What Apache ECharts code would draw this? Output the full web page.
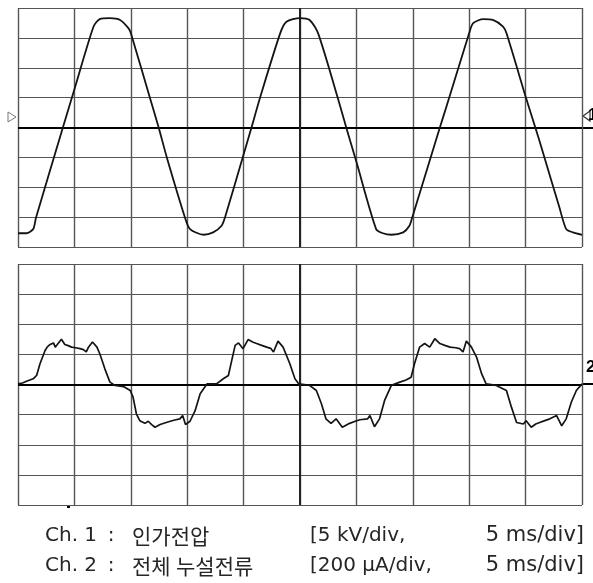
<!DOCTYPE html>
<html>
<head>
<meta charset="utf-8">
<script src="https://cdn.jsdelivr.net/npm/echarts@6/dist/echarts.min.js"></script>
<style>
html,body{margin:0;padding:0;background:#fff;}
#chart{width:593px;height:583px;}
</style>
</head>
<body>
<div id="chart"></div>
<script>
// Time axis: 10 divisions x 5 ms/div
const timeTicks = [0, 5, 10, 15, 20, 25, 30, 35, 40, 45, 50];
// Ch.1 applied voltage [ms, kV] (5 kV/div)
const voltageData = [
  [0, -17.7], [0.75, -17.7], [1.35, -17.0], [1.6, -15.05], [3.98, 0], [5.05, 6.7],
  [6.7, 16.9], [7.25, 18.15], [8.15, 18.3], [9.05, 18.0], [9.8, 16.6], [10.0, 15.8],
  [11.7, 4.95], [12.47, 0], [13.2, -5.05], [14.8, -15.05], [15.25, -17.0], [16.45, -17.95],
  [17.3, -17.55], [18.05, -16.45], [18.35, -15.05], [20.05, -4.2], [20.7, 0], [21.45, 4.95],
  [23.25, 15.8], [23.8, 17.7], [25.0, 18.3], [25.85, 18.0], [26.6, 15.8], [28.35, 4.95],
  [29.1, 0], [30.0, -5.75], [31.75, -17.0], [32.35, -17.7], [33.1, -17.95], [34.15, -17.55],
  [34.7, -16.45], [34.95, -15.05], [37.4, 0], [37.95, 3.3], [40.0, 15.8], [40.35, 17.45],
  [41.25, 18.15], [42.1, 18.0], [43.0, 16.9], [43.3, 15.8], [45.0, 5.2], [45.86, 0],
  [46.4, -3.3], [48.0, -13.4], [48.6, -17.0], [49.2, -17.55], [50, -17.95]
];
// Ch.2 total leakage current [ms, uA] (200 uA/div)
const currentData = [
  [0, 4], [0.4, 10], [0.75, 22], [1.35, 38], [1.65, 60], [1.95, 138], [2.4, 226], [2.6, 250],
  [2.85, 266], [3.15, 276], [3.3, 248], [3.45, 262], [3.6, 272], [3.85, 300], [4.15, 266],
  [4.45, 258], [4.75, 248], [5.1, 244], [5.5, 238], [5.8, 232], [6.05, 216], [6.25, 248],
  [6.6, 282], [7.0, 248], [7.25, 204], [7.5, 150], [7.7, 104], [8.15, 16], [8.6, -6],
  [9.35, -14], [9.95, -40], [10.2, -84], [10.5, -196], [10.8, -240], [11.25, -258],
  [11.55, -244], [11.85, -266], [12.15, -284], [12.6, -266], [13.0, -256], [13.5, -244],
  [13.9, -236], [14.35, -228], [14.6, -206], [14.85, -266], [15.25, -244], [15.7, -174],
  [16.15, -62], [16.75, 4], [17.6, 4], [18.2, 38], [18.65, 60], [18.95, 160], [19.25, 260],
  [19.55, 276], [19.95, 238], [20.4, 298], [20.8, 282], [21.15, 272], [21.6, 260],
  [22.05, 248], [22.4, 240], [22.65, 216], [23.05, 288], [23.5, 248], [24.1, 138],
  [24.55, 38], [24.9, 4],
  [25.0, 0], [25.85, -6], [26.45, -40], [26.9, -128], [27.3, -228], [27.75, -258], [28.2, -228],
  [28.75, -284], [29.4, -258], [29.9, -244], [30.3, -234], [31.0, -228], [31.2, -206],
  [31.6, -280], [32.05, -228], [32.5, -106], [33.1, -6], [33.85, 16], [34.4, 30], [34.85, 48],
  [35.15, 138], [35.6, 248], [36.05, 272], [36.5, 248], [36.95, 304], [37.4, 272], [37.9, 258],
  [38.3, 248], [38.8, 244], [39.15, 238], [39.45, 216], [39.75, 288], [40.2, 248],
  [40.65, 182], [41.1, 72], [41.5, 4], [42.4, -6], [43.3, -40], [43.75, -152], [44.2, -252],
  [44.8, -262], [45.05, -240], [45.5, -284], [45.9, -262], [46.25, -252], [46.7, -240],
  [47.15, -228], [47.75, -206], [48.2, -274], [48.6, -228], [49.05, -118], [49.5, -40], [50, 4]
];
// Vertical tick ranges (8 divisions)
const voltageTicks = [-20, -15, -10, -5, 0, 5, 10, 15, 20];
const currentTicks = [-800, -600, -400, -200, 0, 200, 400, 600, 800];
// Captions
const captionCh1 = ['Ch. 1', ':', '인가전압', '[5 kV/div,', '5 ms/div]'];
const captionCh2 = ['Ch. 2', ':', '전체', '누설전류', '[200 µA/div,', '5 ms/div]'];

const gridColor = '#555';
const traceColor = '#141414';
const latinFont = '"DejaVu Sans", sans-serif';
const koreanFont = '"Noto Sans CJK KR", sans-serif';

function xAxisCfg(gi) {
  return {
    type: 'value', gridIndex: gi,
    min: timeTicks[0], max: timeTicks[timeTicks.length - 1], interval: timeTicks[1] - timeTicks[0],
    axisLabel: {show: false}, axisTick: {show: false}, axisLine: {show: false},
    splitLine: {show: true, showMinLine: true, showMaxLine: true, lineStyle: {color: gridColor, width: 1.4}}
  };
}
function yAxisCfg(gi, ticks) {
  return {
    type: 'value', gridIndex: gi,
    min: ticks[0], max: ticks[ticks.length - 1], interval: ticks[1] - ticks[0],
    axisLabel: {show: false}, axisTick: {show: false}, axisLine: {show: false},
    splitLine: {show: true, showMinLine: true, showMaxLine: true, lineStyle: {color: gridColor, width: 1.2}}
  };
}
function centerMarks() {
  return {
    silent: true, symbol: 'none', label: {show: false},
    data: [
      {yAxis: 0, lineStyle: {color: '#000', width: 2.2, type: 'solid'}},
      {xAxis: 25, lineStyle: {color: '#222', width: 2, type: 'solid'}}
    ]
  };
}
function txt(x, y, s, font, size, align) {
  return {type: 'text', x: x, y: y, z: 10,
    style: {text: s, fontFamily: font, fontSize: size, fill: '#262626', align: align || 'left', verticalAlign: 'middle'}};
}

const chart = echarts.init(document.getElementById('chart'), null, {renderer: 'canvas'});
chart.setOption({
  animation: false,
  backgroundColor: '#fff',
  grid: [
    {left: 18, top: 8, width: 564, height: 239, show: false},
    {left: 18, top: 264, width: 564, height: 241, show: false}
  ],
  xAxis: [xAxisCfg(0), xAxisCfg(1)],
  yAxis: [yAxisCfg(0, voltageTicks), yAxisCfg(1, currentTicks)],
  series: [
    {type: 'line', xAxisIndex: 0, yAxisIndex: 0, data: voltageData, showSymbol: false,
     smooth: 0.25, lineStyle: {color: traceColor, width: 1.8}, markLine: centerMarks(), z: 5},
    {type: 'line', xAxisIndex: 1, yAxisIndex: 1, data: currentData, showSymbol: false,
     smooth: false, lineStyle: {color: traceColor, width: 1.7}, markLine: centerMarks(), z: 5}
  ],
  graphic: [
    {type: 'polygon', shape: {points: [[8, 112], [16, 117], [8, 122]]}, style: {fill: '#fff', stroke: '#777', lineWidth: 1}},
    {type: 'line', shape: {x1: 582, y1: 128, x2: 593, y2: 128}, style: {stroke: '#000', lineWidth: 2}},
    {type: 'polygon', shape: {points: [[590, 111], [583, 116], [590, 121]]}, style: {fill: '#fff', stroke: '#333', lineWidth: 1.2}},
    {type: 'text', x: 588, y: 107, style: {text: '1', font: 'bold 17px "Liberation Sans"', fill: '#000'}},
    {type: 'line', shape: {x1: 582, y1: 384, x2: 593, y2: 384}, style: {stroke: '#000', lineWidth: 2}},
    {type: 'text', x: 586, y: 359, style: {text: '2', font: 'bold 17px "Liberation Sans"', fill: '#000'}},
    {type: 'rect', shape: {x: 67, y: 505, width: 3, height: 3}, style: {fill: '#000'}},
    txt(45, 536, captionCh1[0], latinFont, 20),
    txt(111, 536, captionCh1[1], latinFont, 20, 'center'),
    txt(132, 536, captionCh1[2], koreanFont, 21),
    txt(310, 536, captionCh1[3], latinFont, 20),
    txt(584, 536, captionCh1[4], latinFont, 21, 'right'),
    txt(45, 566, captionCh2[0], latinFont, 20),
    txt(111, 566, captionCh2[1], latinFont, 20, 'center'),
    txt(132, 566, captionCh2[2], koreanFont, 21),
    txt(176, 566, captionCh2[3], koreanFont, 21),
    txt(310, 566, captionCh2[4], latinFont, 20),
    txt(584, 566, captionCh2[5], latinFont, 21, 'right')
  ]
});
</script>
</body>
</html>
